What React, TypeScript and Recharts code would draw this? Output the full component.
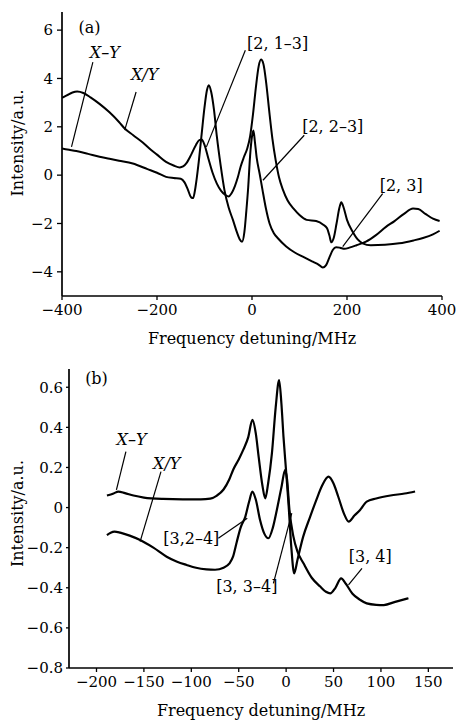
import React from 'react';
import { LineChart, Line, XAxis, YAxis, ReferenceLine, ReferenceDot } from 'recharts';

const FONT = '"DejaVu Serif", serif';

// ---------- Panel (a) ----------
const freqTicksA = [-400, -200, 0, 200, 400];
const intensityTicksA = [-4, -2, 0, 2, 4, 6];

const ratioA: [number, number][] = [
  [-400, 3.2], [-390, 3.3], [-378, 3.42], [-368, 3.46], [-355, 3.4], [-340, 3.22], [-321, 2.95],
  [-300, 2.6], [-280, 2.2], [-268, 1.93], [-250, 1.65], [-230, 1.35], [-216, 1.1], [-200, 0.85],
  [-181, 0.55], [-165, 0.4], [-152, 0.32], [-145, 0.36], [-138, 0.5], [-128, 0.85], [-118, 1.25],
  [-111, 1.45], [-106, 1.47], [-100, 1.25], [-92, 0.7], [-83, 0.1], [-74, -0.35], [-65, -0.65],
  [-56, -0.82], [-49, -0.88], [-43, -0.75], [-36, -0.45], [-30, -0.1], [-24, 0.35], [-17, 0.75],
  [-10, 1.1], [-4, 1.6], [2, 2.5], [8, 3.6], [14, 4.5], [19, 4.78], [24, 4.6], [30, 3.8],
  [36, 2.7], [43, 1.5], [50, 0.6], [57, -0.1], [65, -0.6], [75, -1.05], [88, -1.4], [100, -1.65],
  [115, -1.85], [135, -1.9], [150, -2.05], [158, -2.2], [163, -2.5], [167, -2.78], [172, -2.6],
  [178, -2.0], [184, -1.35], [188, -1.12], [193, -1.35], [200, -1.85], [212, -2.34], [222, -2.65],
  [233, -2.82], [250, -2.9], [280, -2.88], [310, -2.82], [340, -2.7], [360, -2.6], [381, -2.45],
  [395, -2.3],
];

const diffA: [number, number][] = [
  [-400, 1.1], [-385, 1.05], [-370, 1.0], [-345, 0.88], [-321, 0.76], [-300, 0.68], [-280, 0.6],
  [-251, 0.48], [-220, 0.25], [-200, 0.1], [-181, -0.07], [-165, -0.12], [-150, -0.15],
  [-142, -0.3], [-135, -0.6], [-128, -0.92], [-124, -0.95], [-119, -0.5], [-113, 0.4],
  [-106, 1.7], [-100, 2.8], [-95, 3.5], [-91, 3.72], [-86, 3.45], [-80, 2.7], [-74, 1.6],
  [-66, 0.4], [-58, -0.62], [-49, -1.35], [-40, -1.86], [-32, -2.35], [-26, -2.65], [-21, -2.76],
  [-16, -2.35], [-12, -1.5], [-8, -0.5], [-4, 0.8], [0, 1.6], [3, 1.85], [6, 1.4], [10, 0.7],
  [16, 0.07], [22, -0.6], [29, -1.35], [37, -2.0], [46, -2.4], [55, -2.62], [72, -2.95],
  [90, -3.2], [107, -3.37], [128, -3.58], [140, -3.7], [149, -3.82], [156, -3.72], [163, -3.4],
  [170, -3.1], [177, -2.98], [185, -3.0], [195, -3.05], [205, -3.0], [220, -2.9], [240, -2.75],
  [261, -2.48], [282, -2.14], [300, -1.9], [320, -1.6], [339, -1.38], [350, -1.4], [365, -1.6],
  [381, -1.8], [395, -1.9],
];

// ---------- Panel (b) ----------
const freqTicksB = [-200, -150, -100, -50, 0, 50, 100, 150];
const intensityTicksB = [-0.8, -0.6, -0.4, -0.2, 0, 0.2, 0.4, 0.6];

const diffB: [number, number][] = [
  [-189, 0.06], [-182, 0.07], [-177, 0.08], [-170, 0.072], [-161, 0.06], [-150, 0.05],
  [-130, 0.043], [-109, 0.041], [-90, 0.041], [-80, 0.045], [-73, 0.06], [-66, 0.09],
  [-60, 0.14], [-55.7, 0.19], [-50, 0.24], [-45, 0.29], [-40, 0.35], [-35.6, 0.437], [-32, 0.37],
  [-29, 0.254], [-25, 0.11], [-22, 0.046], [-19, 0.12], [-15, 0.27], [-11, 0.5], [-7.4, 0.636],
  [-5, 0.52], [-2.8, 0.354], [0, 0.18], [2.5, 0.02], [5.5, -0.2], [8.5, -0.328], [12, -0.26],
  [18, -0.145], [25, -0.05], [32, 0.04], [38, 0.11], [44.7, 0.154], [50, 0.12], [55, 0.054],
  [61, -0.03], [66, -0.07], [72, -0.04], [78, -0.012], [85, 0.03], [95, 0.045], [110, 0.06],
  [125, 0.07], [136, 0.08],
];

const ratioB: [number, number][] = [
  [-189, -0.137], [-185, -0.125], [-181, -0.12], [-175, -0.125], [-165, -0.14], [-154, -0.162],
  [-140, -0.2], [-126, -0.245], [-115, -0.27], [-105, -0.286], [-95, -0.3], [-84, -0.308],
  [-75, -0.31], [-66, -0.3], [-60, -0.28], [-56, -0.245], [-52, -0.17], [-48, -0.1],
  [-43, -0.045], [-39, 0.03], [-35.6, 0.08], [-32, 0.04], [-27.5, -0.062], [-23, -0.13],
  [-18.7, -0.153], [-14, -0.1], [-9.8, -0.012], [-5, 0.1], [-1, 0.188], [1, 0.14], [3.5, -0.012],
  [7.7, -0.145], [12, -0.22], [18.3, -0.278], [27, -0.35], [36, -0.394], [42, -0.42],
  [46.5, -0.428], [52, -0.4], [58, -0.353], [63, -0.38], [70, -0.43], [78, -0.46], [85, -0.478],
  [95, -0.485], [103, -0.486], [115, -0.47], [129, -0.452],
];

// ---------- Annotations (data coordinates) ----------
type Note = { text: string; italic?: boolean; at: [number, number]; from?: [number, number]; to?: [number, number] };

const notesA: Note[] = [
  { text: '(a)', at: [-342, 6.12] },
  { text: 'X\u2013Y', italic: true, at: [-310, 5.08], from: [-335, 4.68], to: [-380, 1.17] },
  { text: 'X/Y', italic: true, at: [-226, 4.17], from: [-244, 3.44], to: [-268, 1.86] },
  { text: '[2, 1\u20133]', at: [54, 5.44], from: [-14, 5.17], to: [-96, 1.17] },
  { text: '[2, 2\u20133]', at: [170, 2.0], from: [110, 1.65], to: [23, -0.21] },
  { text: '[2, 3]', at: [314, -0.41], from: [275, -0.76], to: [191, -2.96] },
];

const notesB: Note[] = [
  { text: '(b)', at: [-200, 0.645] },
  { text: 'X\u2013Y', italic: true, at: [-163, 0.34], from: [-169, 0.279], to: [-179, 0.088] },
  { text: 'X/Y', italic: true, at: [-126, 0.221], from: [-132, 0.179], to: [-154, -0.17] },
  { text: '[3,2\u20134]', at: [-100, -0.153], from: [-71.5, -0.153], to: [-41, -0.053] },
  { text: '[3, 3\u20134]', at: [-41.5, -0.395], from: [-13.4, -0.378], to: [6, -0.028] },
  { text: '[3, 4]', at: [88.7, -0.245], from: [80, -0.303], to: [65.8, -0.386] },
];

const toRows = (pts: [number, number][]) => pts.map(([f, v]) => ({ f, v }));

const fmt = (v: number) => String(Math.round(v * 100) / 100).replace('-', '\u2212');

const textLabel = (value: string, italic = false) => ({
  content: (props: any) => {
    const vb = props.viewBox || {};
    const cx = (vb.x ?? 0) + (vb.width ?? 0) / 2;
    const cy = (vb.y ?? 0) + (vb.height ?? 0) / 2;
    return (
      <text x={cx} y={cy} textAnchor="middle" dominantBaseline="central" fontFamily={FONT}
        fontSize={16} fontStyle={italic ? 'italic' : 'normal'} fill="#000">{value}</text>
    );
  },
});

const yLabel = (dy: number) => ({
  content: (props: any) => {
    const vb = props.viewBox || {};
    const x = (vb.x ?? 0) + 17;
    const y = (vb.y ?? 0) + (vb.height ?? 0) / 2 + dy;
    return (
      <text x={x} y={y} transform={`rotate(-90 ${x} ${y})`} textAnchor="middle" dominantBaseline="central"
        fontFamily={FONT} fontSize={16} fill="#000">Intensity/a.u.</text>
    );
  },
});

const xLabel = {
  content: (props: any) => {
    const vb = props.viewBox || {};
    const x = (vb.x ?? 0) + (vb.width ?? 0) / 2;
    const y = (vb.y ?? 0) + 42;
    return (
      <text x={x} y={y} textAnchor="middle" dominantBaseline="central" fontFamily={FONT}
        fontSize={16} fill="#000">Frequency detuning/MHz</text>
    );
  },
};

const tickStyle = { fontFamily: FONT, fontSize: 15, fill: '#000' };
const axisLineStyle = { stroke: '#000', strokeWidth: 1.7 };
const tickLineStyle = { stroke: '#000', strokeWidth: 1.3 };

function renderNotes(notes: Note[]) {
  const out: React.ReactNode[] = [];
  notes.forEach((n, i) => {
    if (n.from && n.to) {
      out.push(
        <ReferenceLine key={`l${i}`} segment={[{ x: n.from[0], y: n.from[1] }, { x: n.to[0], y: n.to[1] }]}
          stroke="#000" strokeWidth={1.2} ifOverflow="visible" />
      );
    }
    out.push(
      <ReferenceDot key={`d${i}`} x={n.at[0]} y={n.at[1]} r={0} fill="none" stroke="none"
        ifOverflow="visible" label={textLabel(n.text, n.italic)} />
    );
  });
  return out;
}

export default function App() {
  return (
    <div style={{ position: 'absolute', left: 0, top: 0, width: 456, height: 720, background: '#fff' }}>
      <div style={{ position: 'absolute', left: 0, top: 0 }}>
        <LineChart width={456} height={350} margin={{ top: 12, right: 14, left: 0, bottom: 0 }}>
          <XAxis type="number" dataKey="f" domain={[-400, 400]} ticks={freqTicksA} allowDataOverflow
            tickFormatter={fmt} tick={tickStyle} tickSize={4} tickMargin={4} height={54}
            axisLine={axisLineStyle} tickLine={tickLineStyle} label={xLabel} />
          <YAxis type="number" dataKey="v" domain={[-5, 6.75]} ticks={intensityTicksA} allowDataOverflow
            tickFormatter={fmt} tick={tickStyle} tickSize={5} tickMargin={4} width={62}
            axisLine={axisLineStyle} tickLine={tickLineStyle} label={yLabel(-11)} />
          <Line data={toRows(ratioA)} dataKey="v" type="monotone" stroke="#000" strokeWidth={2} dot={false}
            isAnimationActive={false} />
          <Line data={toRows(diffA)} dataKey="v" type="monotone" stroke="#000" strokeWidth={2} dot={false}
            isAnimationActive={false} />
          {renderNotes(notesA)}
        </LineChart>
      </div>
      <div style={{ position: 'absolute', left: 0, top: 350 }}>
        <LineChart width={456} height={370} margin={{ top: 19, right: 3, left: 0, bottom: 0 }}>
          <XAxis type="number" dataKey="f" domain={[-229, 176]} ticks={freqTicksB} allowDataOverflow
            tickFormatter={fmt} tick={tickStyle} tickSize={4} tickMargin={4} height={52}
            axisLine={axisLineStyle} tickLine={tickLineStyle} label={xLabel} />
          <YAxis type="number" dataKey="v" domain={[-0.8, 0.691]} ticks={intensityTicksB} allowDataOverflow
            tickFormatter={fmt} tick={tickStyle} tickSize={3} tickMargin={3} width={69}
            axisLine={axisLineStyle} tickLine={tickLineStyle} label={yLabel(-5)} />
          <Line data={toRows(diffB)} dataKey="v" type="monotone" stroke="#000" strokeWidth={2.2} dot={false}
            isAnimationActive={false} />
          <Line data={toRows(ratioB)} dataKey="v" type="monotone" stroke="#000" strokeWidth={2.2} dot={false}
            isAnimationActive={false} />
          {renderNotes(notesB)}
        </LineChart>
      </div>
    </div>
  );
}
